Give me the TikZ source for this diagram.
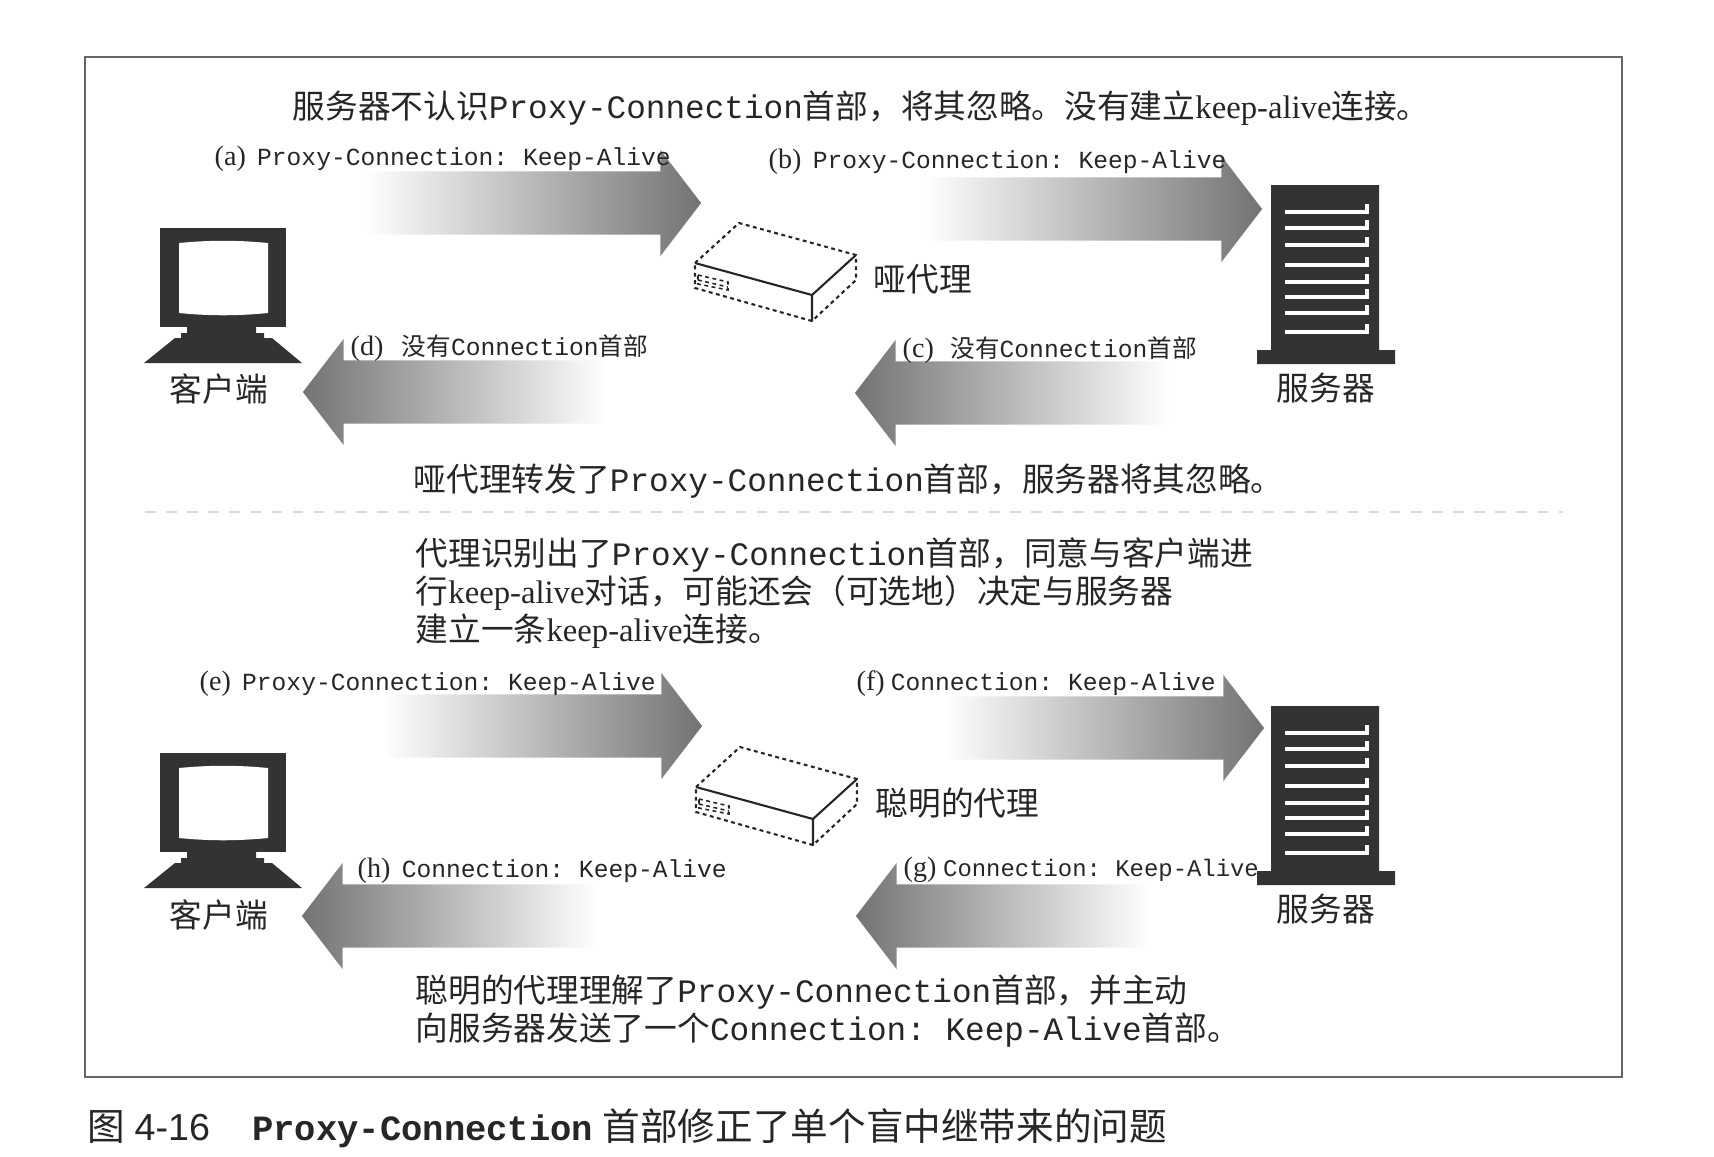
\documentclass[tikz,border=0pt]{standalone}
\usepackage{fontspec}
\setmainfont{Liberation Serif}
\setmonofont{Liberation Mono}
\setsansfont{Liberation Sans}
\newfontfamily\cjk{Noto Sans CJK SC}
\usetikzlibrary{shapes.arrows}
\newcommand{\zh}[1]{{\cjk #1}}
\newcommand{\tagmark}[2]{{\fontsize{8}{9}\selectfont(#1)}\hspace{#2}}
\definecolor{inkdark}{HTML}{333333}
\tikzset{
  bodytext/.style={font=\fontsize{9.3}{10.8}\selectfont,anchor=west,inner sep=0pt,align=left,text=black!85},
  smalltext/.style={font=\fontsize{7}{8}\selectfont,anchor=west,inner sep=0pt,text=black!85},
  flowright/.style={single arrow,anchor=tip,minimum height=#1,inner xsep=0pt,inner ysep=.31cm,
    single arrow head extend=.215cm,single arrow tip angle=105,left color=white,right color=black!55},
  flowleft/.style={flowright=#1,shape border rotate=180,left color=black!55,right color=white},
  dotline/.style={line width=.6pt,dash pattern=on 1.1pt off 1pt,black!85},
  pics/clientpc/.style={code={
    \fill[inkdark] (0,0) rectangle (126,99);
    \fill[white] (19,15) .. controls (50,12) and (77,12) .. (108,15) -- (108,85) .. controls (77,88) and (50,88) .. (19,85) -- cycle;
    \fill[inkdark] (27,99)--(96,99)--(96,105)--(104,105)--(104,110)--(112,110)--(142,135)--(-16,135)--(15,110)--(21,110)--(21,105)--(27,105)--cycle;
  }},
  pics/serverbox/.style={code={
    \fill[inkdark] (0,0) rectangle (108,165) (-14,165) rectangle (124,179);
    \foreach \slat in {27,43,60,80,97,112,128,147}
      \draw[white,line width=1.1pt] (14,\slat)--(96,\slat)--(96,\slat-8);
  }},
  pics/proxybox/.style={code={
    \draw[dotline] (0,0)--(44,-40)--(161,-8)--(161,17)--(117,58)--(0,25)--cycle;
    \draw[dotline,line width=.45pt] (3,12)--(33,19)--(33,27)--(3,21)--cycle (3,17)--(33,24);
    \draw[line width=.6pt,black!85] (0,0)--(117,32)--(161,-8) (117,32)--(117,58);
  }}
}
\begin{document}
\begin{tikzpicture}[x=0.01cm,y=-0.01cm]
  \useasboundingbox (0,0) rectangle (1714,1156);
  \draw[black!60,line width=.6pt] (85,57) rectangle (1622,1077);
  \draw[black!15,dashed,line width=.4pt] (145,512)--(1563,512);
  % upper half
  \node[flowright=3.36cm] (arrowa) at (702,203) {};
  \node[flowright=3.38cm] (arrowb) at (1263,209) {};
  \node[flowleft=3.15cm] (arrowc) at (854,393) {};
  \node[flowleft=3.04cm] (arrowd) at (302,392) {};
  \pic at (160,228) {clientpc};
  \pic at (1271,185) {serverbox};
  \pic at (695,263) {proxybox};
  \node[bodytext] (toptext) at (292,108) {\zh{服务器不认识}\texttt{Proxy-Connection}\zh{首部，将其忽略。没有建立}keep-alive\zh{连接。}};
  \node[smalltext] (labela) at (214,159) {\tagmark{a}{3.2pt}\texttt{Proxy-Connection: Keep-Alive}};
  \node[smalltext] (labelb) at (768,162) {\tagmark{b}{3.2pt}\texttt{Proxy-Connection: Keep-Alive}};
  \node[smalltext] (labeld) at (350,348) {\tagmark{d}{5.2pt}\zh{没有}\texttt{Connection}\zh{首部}};
  \node[smalltext] (labelc) at (902,350) {\tagmark{c}{4.7pt}\zh{没有}\texttt{Connection}\zh{首部}};
  \node[bodytext] (dumbname) at (873,279) {\zh{哑代理}};
  \node[bodytext] (clienta) at (219,389) [anchor=center] {\zh{客户端}};
  \node[bodytext] (servera) at (1326,388) [anchor=center] {\zh{服务器}};
  \node[bodytext] (midtext) at (413,481) {\zh{哑代理转发了}\texttt{Proxy-Connection}\zh{首部，服务器将其忽略。}};
  % lower half
  \node[bodytext,anchor=north west] (paratext) at (415,537) {\zh{代理识别出了}\texttt{Proxy-Connection}\zh{首部，同意与客户端进}\\\zh{行}keep-alive\zh{对话，可能还会（可选地）决定与服务器}\\\zh{建立一条}keep-alive\zh{连接。}};
  \node[flowright=3.2cm] (arrowe) at (703,726) {};
  \node[flowright=3.2cm] (arrowf) at (1265,728) {};
  \node[flowleft=2.93cm] (arrowg) at (855,916) {};
  \node[flowleft=2.95cm] (arrowh) at (301,916) {};
  \pic at (160,753) {clientpc};
  \pic at (1271,706) {serverbox};
  \pic at (696,787) {proxybox};
  \node[smalltext] (labele) at (199,684) {\tagmark{e}{3.2pt}\texttt{Proxy-Connection: Keep-Alive}};
  \node[smalltext] (labelf) at (856,684) {\tagmark{f}{1.7pt}\texttt{Connection: Keep-Alive}};
  \node[smalltext] (labelh) at (357,871) {\tagmark{h}{3.2pt}\texttt{Connection: Keep-Alive}};
  \node[smalltext,font=\fontsize{6.8}{8}\selectfont] (labelg) at (903,870) {\tagmark{g}{1.9pt}\texttt{Connection: Keep-Alive}};
  \node[bodytext] (smartname) at (875,803) {\zh{聪明的代理}};
  \node[bodytext] (clientb) at (219,915) [anchor=center] {\zh{客户端}};
  \node[bodytext] (serverb) at (1326,909) [anchor=center] {\zh{服务器}};
  \node[bodytext,anchor=north west] (endtext) at (415,974) {\zh{聪明的代理理解了}\texttt{Proxy-Connection}\zh{首部，并主动}\\\zh{向服务器发送了一个}\texttt{Connection: Keep-Alive}\zh{首部。}};
  % caption
  \node[anchor=west,inner sep=0pt,text=black!85,font=\fontsize{10.7}{12}\selectfont] (caption) at (87,1128) {\zh{图} \textsf{4-16}\hspace{12pt}{\fontsize{10.1}{12}\selectfont\ttfamily\bfseries Proxy-Connection} \zh{首部修正了单个盲中继带来的问题}};
\end{tikzpicture}
\end{document}
